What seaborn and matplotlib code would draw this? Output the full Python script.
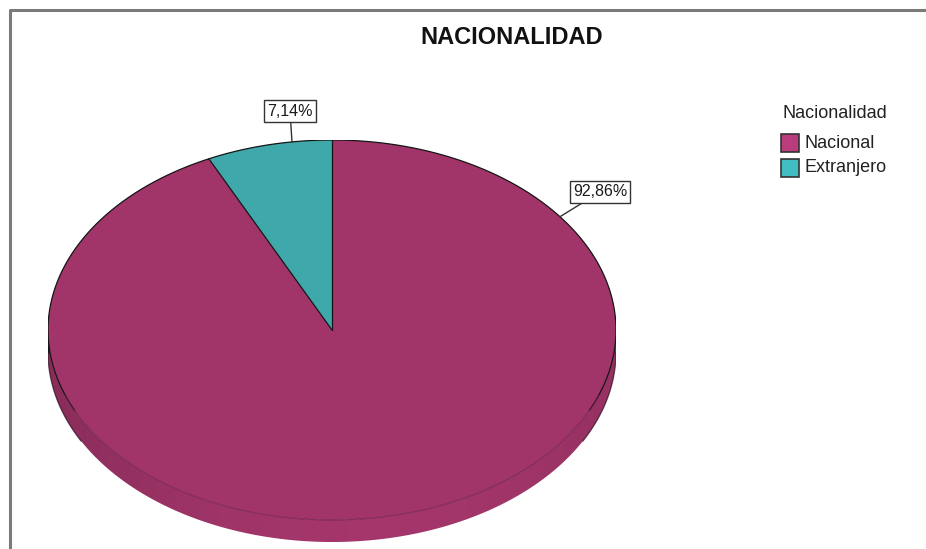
import numpy as np
import matplotlib
matplotlib.use("Agg")
import matplotlib.pyplot as plt
import seaborn as sns
from matplotlib.patches import Polygon, Rectangle

# ---- data ----
categories = ["Nacional", "Extranjero"]
percentages = [92.86, 7.14]
label_texts = ["92,86%", "7,14%"]
chart_title = "NACIONALIDAD"
legend_title = "Nacionalidad"

# ---- styles ----
top_colors = ["#A13569", "#3EA8AA"]
legend_colors = ["#B93C7C", "#40BEC4"]

sns.set_theme(style="white")
plt.rcParams['font.family'] = ['Liberation Sans', 'DejaVu Sans']

W, H = 926, 549
fig = plt.figure(figsize=(W / 100, H / 100), dpi=100)
bg = fig.add_axes([0, 0, 1, 1])
bg.set_xlim(0, W)
bg.set_ylim(H, 0)
bg.axis('off')
bg.plot([9.5, 9.5, W], [H, 9.5, 9.5], color='#7a7a7a', lw=2.2, solid_capstyle='butt')

# pie geometry (pixels)
cx, cy, rx, ry, depth = 332, 330, 284, 190, 22
d = depth / ry
ax = fig.add_axes([(cx - rx) / W, (H - (cy + ry + depth)) / H, 2 * rx / W, (2 * ry + depth) / H])

# draw order for pie: counter-clockwise from top -> Extranjero first, then Nacional
order = [1, 0]
vals = [percentages[i] for i in order]
cols = [top_colors[i] for i in order]
wedges, _ = ax.pie(vals, colors=cols, startangle=90, counterclock=True,
                   wedgeprops=dict(edgecolor='none', linewidth=0, zorder=3))
ax.set_aspect('auto')
ax.set_xlim(-1, 1)
ax.set_ylim(-1 - d, 1)
ax.axis('off')

# slice angle spans (degrees, ccw from +x)
spans = []
a0 = 90.0
for v, i in zip(vals, order):
    a1 = a0 + v / 100.0 * 360.0
    spans.append((a0, a1, i))
    a0 = a1

def slice_at(angle_deg):
    for s0, s1, i in spans:
        a = angle_deg
        while a < s0:
            a += 360
        if a <= s1:
            return i
    return 0

# 3D side (visible lower half) as one polygon with a gradient image clipped to it
tb = np.linspace(np.pi, 2 * np.pi, 400)
side_xy = np.concatenate([np.column_stack([np.cos(tb), np.sin(tb)]),
                          np.column_stack([np.cos(tb[::-1]), np.sin(tb[::-1]) - d])])
side = Polygon(side_xy, closed=True, facecolor='none', edgecolor='none', zorder=1)
ax.add_patch(side)
xs = np.linspace(-1, 1, 600)
img = np.zeros((2, len(xs), 3))
for j, xv in enumerate(xs):
    ang = np.degrees(np.arccos(np.clip(xv, -1, 1)))
    i = slice_at(360 - ang)
    base = np.array(matplotlib.colors.to_rgb(top_colors[i]))
    f = 1.02 - 0.17 * ((xv - 0.15) / 1.15) ** 2
    img[:, j, :] = np.clip(base * f, 0, 1)
im = ax.imshow(img, extent=(-1, 1, -1 - d, 0), aspect='auto', origin='lower',
               interpolation='bilinear', zorder=1)
im.set_clip_path(side)
ax.set_xlim(-1, 1)
ax.set_ylim(-1 - d, 1)

# outlines
tt = np.radians(np.linspace(-25, 205, 400))
ax.plot(np.cos(tt), np.sin(tt), color='#151515', lw=0.9, zorder=4)
tl = np.radians(np.linspace(200, 340, 300))
ax.plot(np.cos(tl), np.sin(tl), color='#6b1f45', lw=0.7, zorder=4, alpha=0.8)
for a_from, a_to in [(180, 208), (332, 360)]:
    ts = np.radians(np.linspace(a_from, a_to, 80))
    ax.plot(np.cos(ts), np.sin(ts) - d, color='#2a0a1c', lw=0.9, zorder=2, alpha=0.7)
ax.plot([-1, -1], [0, -d], color='#151515', lw=0.9, zorder=2)
ax.plot([1, 1], [0, -d], color='#151515', lw=0.9, zorder=2)
for s0, s1, i in spans:
    a = np.radians(s0)
    ax.plot([0, np.cos(a)], [0, np.sin(a)], color='#151515', lw=0.9, zorder=4)

# labels with leader lines
label_anchor_deg = {0: 36.6, 1: 98.1}
label_pos = {0: (600, 192), 1: (290, 111)}
for i in range(len(categories)):
    a = np.radians(label_anchor_deg[i])
    ax.annotate(label_texts[i], xy=(np.cos(a), np.sin(a)), xycoords='data',
                xytext=label_pos[i], textcoords=bg.transData,
                ha='center', va='center', fontsize=11.5, color='#1a1a1a',
                bbox=dict(boxstyle='square,pad=0.2', facecolor='white', edgecolor='#333333', lw=1),
                arrowprops=dict(arrowstyle='-', color='#333333', lw=1, shrinkA=0, shrinkB=0),
                zorder=5, annotation_clip=False)

# title
bg.text(512, 37, chart_title, ha='center', va='center', fontsize=17, fontweight='bold', color='#111111')

# legend
bg.text(782, 113, legend_title, ha='left', va='center', fontsize=13, color='#222222')
for k, name in enumerate(categories):
    y0 = 134 + k * 25
    bg.add_patch(Rectangle((781, y0), 18, 18, facecolor=legend_colors[k], edgecolor='#333333', lw=1.2))
    bg.text(804, y0 + 9, name, ha='left', va='center', fontsize=13, color='#222222')

fig.savefig("out.png", dpi=100)
